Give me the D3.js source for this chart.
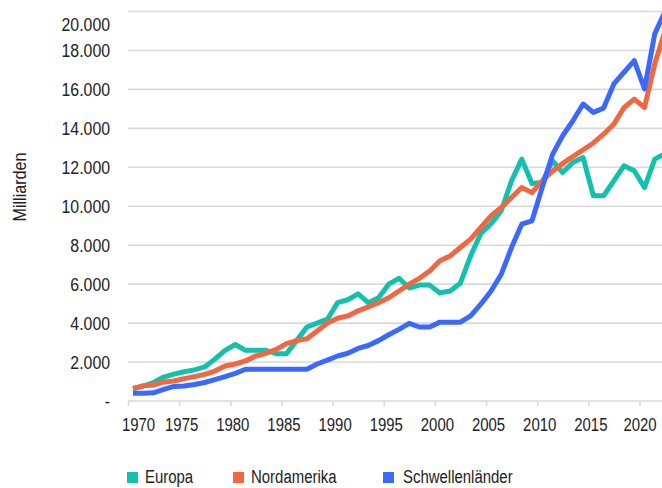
<!DOCTYPE html>
<html><head><meta charset="utf-8">
<script src="https://cdn.jsdelivr.net/npm/d3@7"></script>
<style>
html,body{margin:0;padding:0;background:#fff;}
svg{display:block;}
text{font-family:"Liberation Sans Narrow","Arial Narrow","Liberation Sans",sans-serif;fill:#222;}
</style></head>
<body>
<svg id="chart" width="662" height="488"></svg>
<script>
const years = [1970,1971,1972,1973,1974,1975,1976,1977,1978,1979,1980,1981,1982,1983,1984,1985,1986,1987,1988,1989,1990,1991,1992,1993,1994,1995,1996,1997,1998,1999,2000,2001,2002,2003,2004,2005,2006,2007,2008,2009,2010,2011,2012,2013,2014,2015,2016,2017,2018,2019,2020,2021,2022];
const europa = [620,770,950,1230,1380,1500,1600,1750,2150,2600,2900,2600,2600,2600,2430,2430,3100,3800,4000,4200,5050,5200,5500,5050,5300,6000,6300,5800,5950,5950,5550,5650,6050,7450,8600,9100,9770,11300,12420,11170,11220,12340,11730,12250,12500,10540,10540,11300,12080,11820,10960,12420,12700];
const nordamerika = [650,780,820,980,1030,1150,1250,1370,1540,1800,1900,2060,2310,2450,2650,2950,3100,3200,3600,4000,4250,4370,4630,4830,5050,5300,5650,6000,6300,6680,7200,7450,7880,8310,8910,9510,9940,10450,10960,10700,11300,11800,12200,12550,12900,13250,13700,14220,15070,15500,15070,17300,19000];
const schwellenlaender = [400,400,420,600,750,770,850,950,1100,1250,1420,1630,1630,1630,1630,1630,1630,1630,1900,2100,2310,2450,2700,2850,3100,3400,3680,3990,3800,3800,4050,4050,4050,4370,4970,5650,6510,7880,9080,9250,10960,12650,13620,14390,15250,14820,15040,16280,16880,17480,16020,18850,20000];
const seriesNames = ["Europa","Nordamerika","Schwellenländer"];
const seriesColors = ["#13c0ad","#f26640","#3b68ff"];
const yTicks = [0,2000,4000,6000,8000,10000,12000,14000,16000,18000,20000];
const xTickYears = [1970,1975,1980,1985,1990,1995,2000,2005,2010,2015,2020];
const yTitle = "Milliarden";

const series = [europa, nordamerika, schwellenlaender];
const svg = d3.select("#chart");
const x = d3.scaleLinear().domain([1970, 2020]).range([133, 644.5]);
const y = d3.scaleLinear().domain([0, 20000]).range([401, 11.5]);
const plotLeft = 128, plotRight = 662;
const fmt = v => v === 0 ? "-" : d3.format(",")(v).replace(/,/g, ".");

// condense text (no narrow font installed)
function condense(sel, k) {
  sel.each(function() {
    const w = this.getComputedTextLength();
    d3.select(this).attr("textLength", w * k).attr("lengthAdjust", "spacingAndGlyphs");
  });
}

// gridlines
svg.append("g").selectAll("line").data(yTicks.filter(d => d > 0)).join("line")
  .attr("x1", plotLeft).attr("x2", plotRight)
  .attr("y1", d => y(d)).attr("y2", d => y(d))
  .attr("stroke", "#d9d9d9").attr("stroke-width", 1.6);

// y axis labels via d3 axis
const yAxis = svg.append("g").attr("transform", "translate(110,0)")
  .call(d3.axisLeft(y).tickValues(yTicks).tickFormat(fmt).tickSize(0).tickPadding(0));
yAxis.select(".domain").remove();
yAxis.selectAll("text").attr("font-size", 18).attr("font-family", null).attr("fill", "#222")
  .attr("dy", d => d === 20000 ? "1.05em" : "0.35em");
condense(yAxis.selectAll("text"), 0.88);

// x axis
const xAxis = svg.append("g").attr("transform", "translate(0,401)")
  .call(d3.axisBottom(x).tickValues(xTickYears).tickFormat(d3.format("d")).tickSize(5).tickPadding(12));
xAxis.select(".domain").attr("d", `M${plotLeft},0H${plotRight}`).attr("stroke", "#d9d9d9").attr("stroke-width", 1.6);
xAxis.selectAll(".tick").attr("transform", d => `translate(${x(d) - 4.5},0)`);
xAxis.selectAll(".tick line").attr("stroke", "#d9d9d9").attr("stroke-width", 1.6);
xAxis.selectAll(".tick text").attr("font-size", 18).attr("font-family", null).attr("fill", "#222")
  .attr("dx", d => d === 1970 ? 10 : (d === 2020 ? 0 : 2));
condense(xAxis.selectAll(".tick text"), 0.83);

// y title
svg.append("text").attr("transform", "translate(20,187) rotate(-90)")
  .attr("text-anchor", "middle").attr("dominant-baseline", "central")
  .attr("font-size", 18).attr("textLength", 69).attr("lengthAdjust", "spacingAndGlyphs").text(yTitle);

// lines
svg.append("clipPath").attr("id", "clip").append("rect")
  .attr("x", 0).attr("y", 0).attr("width", 662).attr("height", 488);
const line = d3.line().x((d, i) => x(years[i])).y(d => y(d));
svg.append("g").attr("clip-path", "url(#clip)").selectAll("path").data(series).join("path")
  .attr("d", line).attr("fill", "none")
  .attr("stroke", (d, i) => seriesColors[i]).attr("stroke-width", 5)
  .attr("stroke-linejoin", "round");

// legend
const legX = [127, 233, 383];
const legTextX = [145, 251, 403];
const leg = svg.append("g");
seriesNames.forEach((n, i) => {
  leg.append("rect").attr("x", legX[i]).attr("y", 472).attr("width", 11).attr("height", 11).attr("fill", seriesColors[i]);
  leg.append("text").attr("x", legTextX[i]).attr("y", 483).attr("font-size", 18).text(n);
});
condense(leg.selectAll("text"), 0.83);
</script>
</body></html>
